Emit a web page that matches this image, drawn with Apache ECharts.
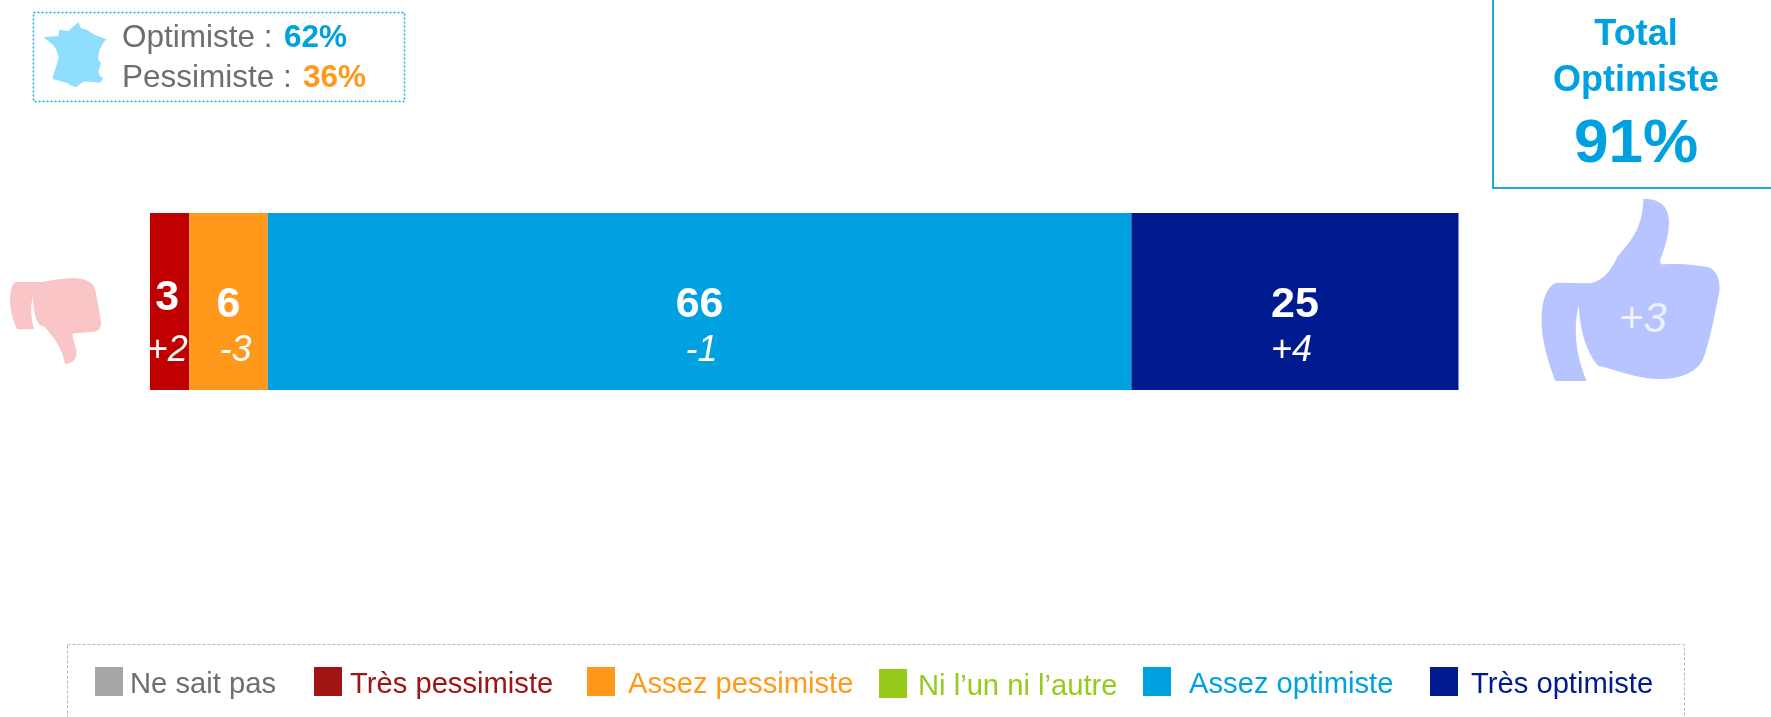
<!DOCTYPE html>
<html><head><meta charset="utf-8">
<style>html,body{margin:0;padding:0;background:#fff}#c{width:1771px;height:717px}</style>
<script src="https://cdn.jsdelivr.net/npm/echarts@6/dist/echarts.min.js"></script>
</head><body><div id="c"></div>
<script>
const categories = ['Total'];
const seriesNames = ['Ne sait pas','Très pessimiste','Assez pessimiste','Ni l’un ni l’autre','Assez optimiste','Très optimiste'];
const seriesValues = [0,3,6,0,66,25];
const seriesDeltas = ['','+2','-3','','-1','+4'];
const barColors = ['#A6A6A6','#C00000','#FF981B','#96CB1C','#00A1E1','#001A8F'];
const legendSwatchColors = ['#A6A6A6','#A01414','#FF981B','#96CB1C','#00A1E1','#001A8F'];
const legendTextColors = ['#6E6E6E','#A01414','#FF981B','#96CB1C','#00A1E1','#001A8F'];
const franceOptimiste = '62%';
const francePessimiste = '36%';
const totalOptimiste = '91%';
const totalDelta = '+3';

// layout only
const legendLeft = [95,314,587,879,1143,1430];
const legendTop = [667,667,667,669,667,667];
const legendTextGap = [2,3,8,6,13,8];
const labelShift = [null,
  {dx:-2.5,dy:22.75,line:52.75,padL:0,padR:0},
  {dx:0,dy:26.5,line:46,padL:14,padR:0},
  null,
  {dx:0,dy:26.5,line:46,padL:4,padR:0},
  {dx:0,dy:26.5,line:46,padL:0,padR:7}];
const FONT = '"Liberation Sans", Arial, sans-serif';

const thumbUp = 'M580 597C630 595 658 620 657 670C655 710 645 745 632 775C628 790 632 795 645 793C690 790 740 795 775 802C800 810 812 840 808 875C795 940 780 1020 762 1070C745 1120 680 1140 620 1137C560 1135 500 1110 445 1097C410 1060 390 990 386 917C370 980 375 1060 410 1143L316 1143C285 1060 270 1000 276 930C280 890 295 855 320 848L410 850C450 850 480 820 502 770C540 725 578 690 580 597Z';
const thumbDown = 'M50 246L125 246C170 240 220 225 262 242C280 250 285 265 288 280L303 365C305 385 295 393 280 395C260 398 240 398 220 400C215 405 220 420 225 435C232 455 235 490 195 492C190 460 175 430 150 400C140 385 130 377 120 376C105 360 98 320 100 285C90 320 92 355 103 388L52 388C35 355 25 310 33 270C36 255 42 248 50 246Z';
const france = 'M235 67L243 85L262 90L285 105L320 118L310 128L298 150L294 178L303 190L295 215L300 228L310 235L300 248L270 245L250 245L228 262L210 255L205 250L160 238L158 232L170 195L176 170L168 148L160 135L130 112L175 108L178 90L205 93Z';
echarts.graphic.registerShape('thumbUp', echarts.graphic.extendPath(thumbUp, {}));
echarts.graphic.registerShape('thumbDown', echarts.graphic.extendPath(thumbDown, {}));
echarts.graphic.registerShape('franceMap', echarts.graphic.extendPath(france, {}));

const chart = echarts.init(document.getElementById('c'), null, {renderer:'canvas'});

const series = seriesNames.map((name,i)=>{
  const s = labelShift[i];
  return {
    name, type:'bar', stack:'total', barWidth:177, data:[seriesValues[i]],
    itemStyle:{color:barColors[i]},
    silent:true, animation:false,
    label: s ? {
      show:true, position:'inside', offset:[s.dx,s.dy], fontFamily:FONT,
      formatter:()=>`{v|${seriesValues[i]}}\n{d|${seriesDeltas[i]}}`,
      rich:{
        v:{fontFamily:FONT,fontSize:43,fontWeight:'bold',color:'#fff',lineHeight:s.line,align:'center'},
        d:{fontFamily:FONT,fontSize:36,fontStyle:'italic',color:'#fff',lineHeight:s.line,align:'center',padding:[0,s.padR,0,s.padL]}
      }
    } : {show:false}
  };
});

const legends = seriesNames.map((name,i)=>({
  show:true, orient:'horizontal', left:legendLeft[i], top:legendTop[i], padding:0,
  itemWidth:28, itemHeight:29, selectedMode:false, icon:'rect',
  data:[{name, itemStyle:{color:legendSwatchColors[i]}}],
  formatter:'{t|{name}}',
  textStyle:{
    fontFamily:FONT,fontSize:29.2,color:legendTextColors[i],
    rich:{t:{fontFamily:FONT,fontSize:29.2,color:legendTextColors[i],padding:[7,0,0,legendTextGap[i]]}}
  }
}));

// x, baseline y: placed through the vertical middle of the line box
const txt = (x,y,text,fontSize,fontWeight,fill,align='left',fontStyle='normal')=>({
  type:'text', x, y:y-0.27*fontSize, silent:true, z:10,
  style:{text,fontFamily:FONT,fontSize,fontWeight,fontStyle,fill,align,verticalAlign:'middle'}
});

chart.setOption({
  animation:false,
  backgroundColor:'#fff',
  grid:{left:150,top:213,width:1308.5,height:177,containLabel:false},
  xAxis:{type:'value',min:0,max:100,show:false},
  yAxis:{type:'category',data:categories,show:false},
  legend:legends,
  series,
  graphic:[
    {type:'rect',shape:{x:67.5,y:644.5,width:1617,height:100},silent:true,
     style:{fill:'none',stroke:'#B4B4B4',lineWidth:1,lineDash:[3,2]}},
    {type:'rect',shape:{x:33.5,y:12.5,width:371,height:89},silent:true,
     style:{fill:'none',stroke:'#1EA7E1',lineWidth:1.5,lineDash:[2,2]}},
    {type:'franceMap',x:0,y:0,scaleX:1/3,scaleY:1/3,silent:true,style:{fill:'#8FDDFF'}},
    txt(122,47,'Optimiste : ',31.5,'normal','#6E6E6E'),
    txt(284,47,franceOptimiste,31.5,'bold','#00A1E1'),
    txt(122,87,'Pessimiste : ',31.5,'normal','#6E6E6E'),
    txt(303,87,francePessimiste,31.5,'bold','#FF981B'),
    {type:'rect',shape:{x:1493,y:-2,width:300,height:190},silent:true,style:{fill:'#fff',stroke:'#1EA7E1',lineWidth:2}},
    txt(1636,45,'Total',36,'bold','#00A1E1','center'),
    txt(1636,91,'Optimiste',36,'bold','#00A1E1','center'),
    txt(1636,162,totalOptimiste,62,'bold','#00A1E1','center'),
    {type:'thumbUp',x:1450,y:0,scaleX:1/3,scaleY:1/3,silent:true,style:{fill:'#B8C4FF'}},
    txt(1643,332,totalDelta,42,'normal','#EEF1FF','center','italic'),
    {type:'thumbDown',x:0,y:200,scaleX:1/3,scaleY:1/3,silent:true,style:{fill:'#F9C5C7'}}
  ]
});
</script></body></html>
